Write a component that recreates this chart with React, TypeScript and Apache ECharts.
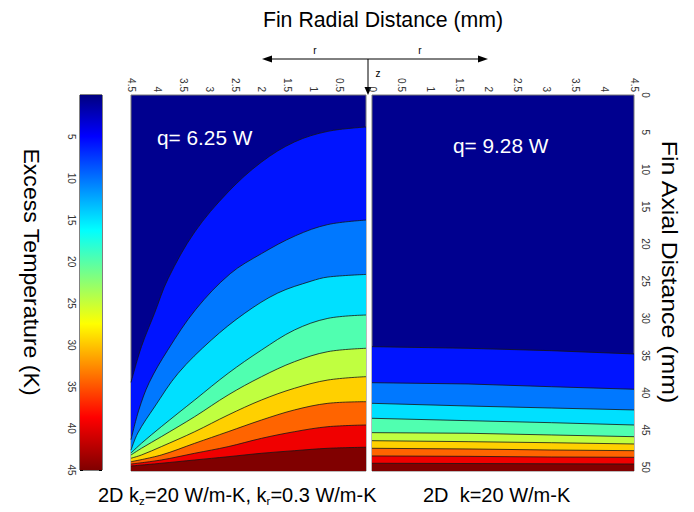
import React, { useEffect, useRef } from "react";
import * as echarts from "echarts";

// ---- data ----
const bandColors = ["#00008F", "#0014FF", "#0078FF", "#00E0FF", "#50FFB0", "#C0FF40", "#FFD000", "#FF6400", "#F00000", "#800000"];
const colorbarStops = ["#000080", "#0000FF", "#00FFFF", "#FFFF00", "#FF0000", "#800000"];
const colorbarOffsets = [0, 0.11, 0.36, 0.61, 0.86, 1];
const tempMax = 45;

// left panel (kz=20, kr=0.3) contour lines: [r (mm), z (mm)]
const leftC1 = [[0, 4.3], [0.73, 4.88], [1.37, 6.31], [2.0, 9.0], [2.64, 13.03], [3.28, 18.4], [3.79, 24.67], [4.05, 29.32], [4.3, 33.8], [4.5, 38.6]];
const leftC2 = [[0, 16.8], [0.73, 17.4], [1.35, 18.9], [2.0, 21.3], [2.6, 24.0], [3.26, 28.8], [3.8, 34.3], [4.15, 38.6], [4.35, 42.3], [4.5, 46.3]];
const leftC3 = [[0, 24.1], [0.73, 24.45], [1.05, 25.0], [1.69, 26.6], [2.32, 29.3], [2.96, 32.9], [3.6, 37.4], [4.05, 41.9], [4.37, 45.4], [4.5, 47.7]];
const leftC4 = [[0, 29.55], [0.73, 30.0], [1.37, 31.56], [2.0, 34.25], [2.64, 37.38], [3.28, 40.96], [3.92, 44.55], [4.3, 46.78], [4.5, 48.08]];
const leftC5 = [[0, 34.02], [0.73, 34.47], [1.37, 35.82], [2.0, 37.83], [2.64, 40.29], [3.28, 43.2], [3.92, 45.89], [4.3, 47.45], [4.5, 48.35]];
const leftC6 = [[0, 37.83], [0.73, 38.28], [1.37, 39.39], [2.0, 40.96], [2.64, 42.98], [3.28, 45.22], [3.92, 47.23], [4.3, 48.35], [4.5, 48.79]];
const leftC7 = [[0, 41.19], [0.73, 41.41], [1.37, 42.3], [2.0, 43.65], [2.64, 45.22], [3.28, 46.78], [3.92, 48.35], [4.5, 49.25]];
const leftC8 = [[0, 44.32], [0.73, 44.55], [1.37, 45.22], [2.0, 46.11], [2.64, 47.23], [3.28, 48.12], [3.92, 49.02], [4.5, 49.56]];
const leftC9 = [[0, 47.31], [0.73, 47.45], [1.37, 47.77], [2.0, 48.12], [2.64, 48.58], [3.28, 49.02], [3.92, 49.46], [4.5, 49.83]];

// right panel (k=20) contour lines
const rightC1 = [[0, 33.8], [1.65, 34.02], [3.08, 34.34], [4.5, 34.78]];
const rightC2 = [[0, 38.64], [1.65, 38.81], [3.08, 39.18], [4.5, 39.52]];
const rightC3 = [[0, 41.41], [1.65, 41.77], [3.08, 42.04], [4.5, 42.3]];
const rightC4 = [[0, 43.42], [1.65, 43.74], [3.08, 44.01], [4.5, 44.32]];
const rightC5 = [[0, 45.35], [1.65, 45.43], [3.08, 45.66], [4.5, 45.89]];
const rightC6 = [[0, 46.43], [1.65, 46.56], [3.08, 46.7], [4.5, 46.87]];
const rightC7 = [[0, 47.45], [1.65, 47.54], [3.08, 47.68], [4.5, 47.77]];
const rightC8 = [[0, 48.48], [1.65, 48.53], [3.08, 48.62], [4.5, 48.66]];
const rightC9 = [[0, 49.46], [4.5, 49.56]];

const leftContours = [leftC1, leftC2, leftC3, leftC4, leftC5, leftC6, leftC7, leftC8, leftC9];
const rightContours = [rightC1, rightC2, rightC3, rightC4, rightC5, rightC6, rightC7, rightC8, rightC9];

const FONT = "Liberation Sans, Arial, Helvetica, sans-serif";

function contourSeries(lines: number[][][], axisIndex: number, smooth: number | boolean) {
  return lines.map((d, i) => ({
    type: "line",
    xAxisIndex: axisIndex,
    yAxisIndex: axisIndex,
    data: d,
    smooth,
    symbol: "none",
    silent: true,
    z: 3 + i,
    lineStyle: { color: "#151515", width: 0.8 },
    areaStyle: { color: bandColors[i + 1], opacity: 1, origin: "end" },
  }));
}

export default function App() {
  const ref = useRef<HTMLDivElement>(null);
  useEffect(() => {
    const chart = echarts.init(ref.current!, null, { renderer: "svg" });
    const gradient = new echarts.graphic.LinearGradient(
      0, 0, 0, 1,
      colorbarStops.map((c, i) => ({ offset: colorbarOffsets[i], color: c }))
    );
    const topAxisLabel = (hideZero: boolean) => ({
      rotate: -90,
      fontSize: 10,
      color: "#333",
      fontFamily: FONT,
      margin: 3,
      formatter: (v: number) => (hideZero && v === 0 ? "" : String(v)),
    });
    const option: any = {
      animation: false,
      backgroundColor: "#fff",
      grid: [
        { left: 131, top: 95, width: 235, height: 376, show: true, backgroundColor: bandColors[0], borderColor: "#777", borderWidth: 1 },
        { left: 372, top: 95, width: 262, height: 376, show: true, backgroundColor: bandColors[0], borderColor: "#777", borderWidth: 1 },
        { left: 80, top: 95, width: 22, height: 375, show: true, borderColor: "#000", borderWidth: 1 },
      ],
      xAxis: [
        { type: "value", gridIndex: 0, position: "top", inverse: true, min: 0, max: 4.5, interval: 0.5,
          axisLine: { show: false }, axisTick: { show: false }, splitLine: { show: false }, axisLabel: topAxisLabel(true) },
        { type: "value", gridIndex: 1, position: "top", min: 0, max: 4.5, interval: 0.5,
          axisLine: { show: false }, axisTick: { show: false }, splitLine: { show: false }, axisLabel: topAxisLabel(false) },
        { type: "category", gridIndex: 2, data: ["T"], show: false },
      ],
      yAxis: [
        { type: "value", gridIndex: 0, min: 0, max: 50.5, inverse: true, show: false },
        { type: "value", gridIndex: 1, min: 0, max: 50.5, interval: 5, inverse: true, position: "right",
          axisLine: { show: false }, axisTick: { show: false }, splitLine: { show: false },
          axisLabel: { rotate: -90, fontSize: 10, color: "#333", fontFamily: FONT, margin: 6,
            formatter: (v: number) => (v % 5 === 0 ? String(v) : "") } },
        { type: "value", gridIndex: 2, min: 0, max: tempMax, interval: 5, inverse: true, position: "left",
          axisLine: { show: false }, splitLine: { show: false },
          axisTick: { show: true, inside: true, length: 3, lineStyle: { color: "#000" } },
          axisLabel: { rotate: -90, fontSize: 10, color: "#333", fontFamily: FONT, margin: 4,
            formatter: (v: number) => (v === 0 ? "" : String(v)) } },
        { type: "value", gridIndex: 2, min: 0, max: tempMax, interval: 5, inverse: true, position: "right",
          axisLine: { show: false }, splitLine: { show: false }, axisLabel: { show: false },
          axisTick: { show: true, inside: true, length: 3, lineStyle: { color: "#000" } } },
      ],
      series: [
        ...contourSeries(leftContours, 0, 0.35),
        ...contourSeries(rightContours, 1, false),
        { type: "bar", xAxisIndex: 2, yAxisIndex: 2, data: [tempMax], barWidth: "100%", silent: true,
          itemStyle: { color: gradient } },
      ],
      graphic: [
        { type: "text", x: 383, y: 20, style: { text: "Fin Radial Distance (mm)", fontSize: 21.3, fontFamily: FONT, fill: "#000", align: "center", verticalAlign: "middle" } },
        { type: "text", x: 31, y: 272, rotation: -Math.PI / 2, scaleX: 1.05, style: { text: "Excess Temperature (K)", fontSize: 22, fontFamily: FONT, fill: "#000", align: "center", verticalAlign: "middle" } },
        { type: "text", x: 669, y: 272, rotation: -Math.PI / 2, scaleX: 1.13, style: { text: "Fin Axial Distance (mm)", fontSize: 22, fontFamily: FONT, fill: "#000", align: "center", verticalAlign: "middle" } },
        { type: "line", shape: { x1: 268, y1: 59, x2: 482, y2: 59 }, style: { stroke: "#000", lineWidth: 1 } },
        { type: "polygon", shape: { points: [[262, 59], [272, 55.5], [272, 62.5]] }, style: { fill: "#000" } },
        { type: "polygon", shape: { points: [[488, 59], [478, 55.5], [478, 62.5]] }, style: { fill: "#000" } },
        { type: "line", shape: { x1: 368, y1: 59, x2: 368, y2: 88 }, style: { stroke: "#000", lineWidth: 1 } },
        { type: "polygon", shape: { points: [[368, 95], [364.5, 87], [371.5, 87]] }, style: { fill: "#000" } },
        { type: "text", x: 315, y: 50, style: { text: "r", fontSize: 10, fontFamily: FONT, fill: "#000", align: "center", verticalAlign: "middle" } },
        { type: "text", x: 420, y: 50, style: { text: "r", fontSize: 10, fontFamily: FONT, fill: "#000", align: "center", verticalAlign: "middle" } },
        { type: "text", x: 378, y: 73, style: { text: "z", fontSize: 10, fontFamily: FONT, fill: "#000", align: "center", verticalAlign: "middle" } },
        { type: "text", x: 157, y: 137, z: 100, style: { text: "q= 6.25 W", fontSize: 20.8, fontFamily: FONT, fill: "#fff", align: "left", verticalAlign: "middle" } },
        { type: "text", x: 453, y: 145, z: 100, style: { text: "q= 9.28 W", fontSize: 20.8, fontFamily: FONT, fill: "#fff", align: "left", verticalAlign: "middle" } },
        { type: "text", x: 98, y: 482, style: {
            text: "{a|2D k}{s|z}{a|=20 W/m-K, k}{s|r}{a|=0.3 W/m-K}",
            rich: {
              a: { fontSize: 20, fontFamily: FONT, fill: "#000", lineHeight: 25 },
              s: { fontSize: 11.5, fontFamily: FONT, fill: "#000", lineHeight: 12, verticalAlign: "bottom" },
            } } },
        { type: "text", x: 423, y: 482, style: { text: "2D  k=20 W/m-K", fontSize: 20, fontFamily: FONT, fill: "#000", lineHeight: 25 } },
      ],
    };
    chart.setOption(option);
    return () => chart.dispose();
  }, []);
  return <div ref={ref} style={{ position: "fixed", left: 0, top: 0, width: 694, height: 512 }} />;
}
